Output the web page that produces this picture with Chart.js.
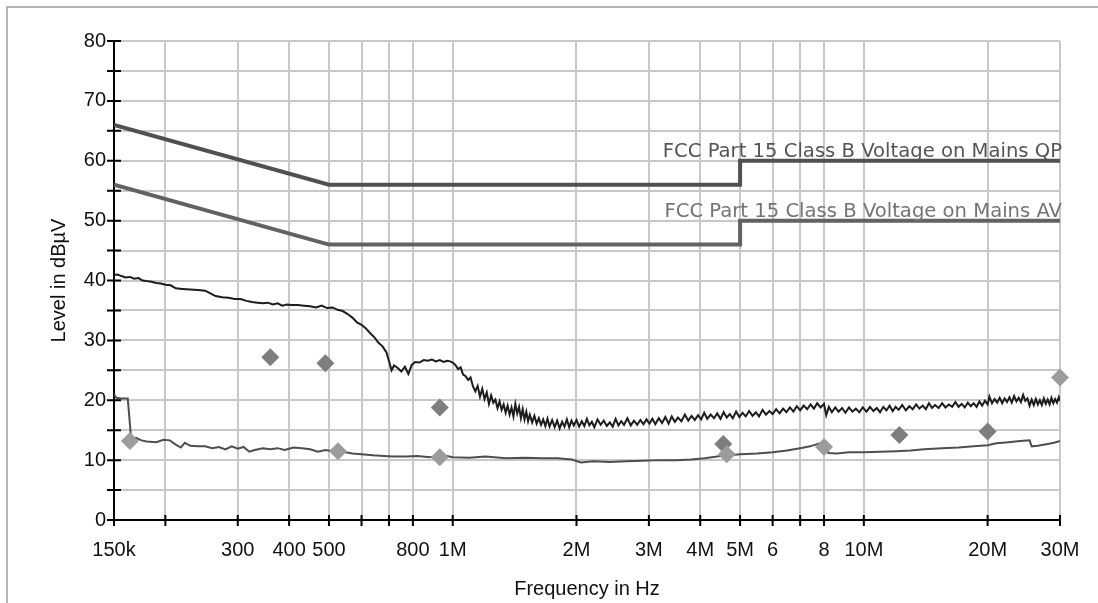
<!DOCTYPE html>
<html>
<head>
<meta charset="utf-8">
<script src="https://cdn.jsdelivr.net/npm/chart.js@4.4.0/dist/chart.umd.min.js"></script>
<style>
  body { margin: 0; background: #fff; }
  canvas { display: block; }
</style>
</head>
<body>
<canvas id="emiChart" width="1098" height="603"></canvas>
<script>
// x axis grid / tick positions (Hz) and their labels
const freqTicks = [150e3, 200e3, 300e3, 400e3, 500e3, 600e3, 700e3, 800e3, 1e6, 2e6, 3e6, 4e6, 5e6, 6e6, 7e6, 8e6, 10e6, 20e6, 30e6];
const freqTickLabels = ['150k', '', '300', '400', '500', '', '', '800', '1M', '2M', '3M', '4M', '5M', '6', '', '8', '10M', '20M', '30M'];

// limit lines [MHz, dBuV]
const qpLimit = [[0.15, 66], [0.5, 56], [5, 56], [5, 60], [30, 60]];
const avLimit = [[0.15, 56], [0.5, 46], [5, 46], [5, 50], [30, 50]];
const qpLimitName = 'FCC Part 15 Class B Voltage on Mains QP';
const avLimitName = 'FCC Part 15 Class B Voltage on Mains AV';

// peak scan [MHz, dBuV]
const peakScan = [
  [0.150,40.9],[0.153,41.0],[0.157,40.7],[0.160,40.5],[0.164,40.6],[0.168,40.3],[0.172,40.4],[0.176,40.0],
  [0.180,39.9],[0.185,39.8],[0.190,39.6],[0.195,39.5],[0.200,39.3],[0.206,39.2],[0.212,38.7],[0.220,38.6],
  [0.230,38.5],[0.240,38.4],[0.250,38.3],[0.258,37.8],[0.265,37.4],[0.275,37.2],[0.285,37.1],[0.295,36.9],
  [0.305,36.9],[0.315,36.6],[0.325,36.4],[0.335,36.3],[0.345,36.2],[0.355,36.3],[0.365,36.0],[0.375,36.2],
  [0.385,35.8],[0.395,36.0],[0.405,35.9],[0.420,35.9],[0.435,35.8],[0.450,35.7],[0.465,35.5],[0.480,35.8],
  [0.495,35.4],[0.510,35.5],[0.525,35.1],[0.540,34.9],[0.555,34.4],[0.570,33.8],[0.585,33.0],[0.600,32.6],
  [0.615,32.0],[0.630,31.2],[0.645,30.5],[0.660,29.6],[0.675,29.0],[0.690,28.0],[0.700,26.5],[0.710,25.0],
  [0.720,25.8],[0.735,25.4],[0.750,24.8],[0.765,25.6],[0.780,24.4],[0.795,25.9],[0.810,26.4],[0.830,26.3],
  [0.850,26.7],[0.870,26.6],[0.890,26.8],[0.910,26.5],[0.930,26.7],[0.950,26.4],[0.970,26.6],[0.985,26.5],
  [1.000,26.3],[1.015,25.9],[1.030,25.2],[1.045,25.5],[1.060,24.3],[1.075,24.0],[1.090,23.4],[1.105,23.8],
  [1.120,22.3],[1.135,21.5],[1.150,22.4],[1.165,20.6],[1.180,21.9],[1.195,20.2],[1.210,21.3],[1.225,19.4],
  [1.240,20.8],[1.255,19.6],[1.270,20.1],[1.285,18.7],[1.300,19.8],[1.315,18.4],[1.330,19.3],[1.345,17.9],
  [1.360,19.1],[1.375,17.6],[1.390,18.8],[1.405,17.3],[1.420,19.4],[1.435,17.8],[1.450,18.9],[1.465,17.0],
  [1.480,18.5],[1.495,16.8],[1.510,18.1],[1.525,16.5],[1.540,17.6],[1.560,16.3],[1.580,17.4],[1.600,16.1],
  [1.620,17.0],[1.640,15.9],[1.660,16.8],[1.680,15.7],[1.700,16.9],[1.720,15.6],[1.745,16.7],[1.770,15.5],
  [1.795,16.6],[1.820,15.3],[1.845,16.4],[1.870,15.6],[1.895,16.8],[1.920,15.5],[1.945,16.6],[1.970,15.8],
  [2.000,16.7],[2.03,15.6],[2.06,16.5],[2.09,15.7],[2.12,16.9],[2.15,15.8],[2.18,16.4],[2.21,15.5],
  [2.25,16.8],[2.29,15.9],[2.33,16.6],[2.37,15.7],[2.41,16.3],[2.45,15.6],[2.49,16.9],[2.53,15.8],
  [2.57,16.5],[2.61,15.9],[2.66,17.0],[2.71,15.8],[2.76,16.6],[2.81,15.9],[2.86,16.7],[2.91,16.0],
  [2.96,16.8],[3.01,16.1],[3.06,16.9],[3.11,16.0],[3.17,17.0],[3.23,16.2],[3.29,17.2],[3.35,16.1],
  [3.41,17.3],[3.47,16.4],[3.53,17.1],[3.60,16.5],[3.67,17.6],[3.74,16.6],[3.81,17.4],[3.88,16.7],
  [3.95,17.5],[4.02,16.8],[4.09,17.9],[4.16,16.9],[4.24,17.6],[4.32,17.0],[4.40,17.8],[4.48,16.9],
  [4.56,18.0],[4.64,17.1],[4.72,17.7],[4.80,17.0],[4.89,18.1],[4.98,17.2],[5.07,17.9],[5.16,17.3],
  [5.26,18.2],[5.36,17.4],[5.46,18.0],[5.56,17.3],[5.67,18.4],[5.78,17.6],[5.89,18.2],[6.00,17.7],
  [6.12,18.5],[6.24,17.8],[6.36,18.6],[6.48,18.0],[6.61,18.8],[6.74,18.1],[6.87,19.0],[7.00,18.3],
  [7.14,19.1],[7.28,18.5],[7.42,19.3],[7.56,18.6],[7.70,19.5],[7.85,18.8],[8.00,19.4],[8.10,17.5],
  [8.22,18.9],[8.36,18.0],[8.52,18.8],[8.68,18.1],[8.85,18.7],[9.02,17.9],[9.20,18.8],[9.38,18.1],
  [9.56,18.6],[9.75,18.0],[9.94,18.8],[10.15,18.1],[10.35,18.9],[10.55,18.2],[10.75,18.7],[10.95,18.0],
  [11.15,18.9],[11.35,18.3],[11.55,19.1],[11.75,18.2],[11.95,18.9],[12.15,18.4],[12.40,19.2],[12.65,18.3],
  [12.90,19.0],[13.15,18.5],[13.40,19.3],[13.65,18.6],[13.90,19.1],[14.15,18.5],[14.40,19.5],[14.65,18.7],
  [14.90,19.2],[15.20,18.7],[15.50,19.5],[15.80,18.8],[16.10,19.3],[16.40,18.9],[16.70,19.7],[17.00,18.9],
  [17.30,19.4],[17.60,18.8],[17.90,19.6],[18.20,19.0],[18.50,19.5],[18.80,18.9],[19.10,19.8],[19.40,19.1],
  [19.70,19.9],[20.00,19.3],[20.20,20.6],[20.50,19.5],[20.80,20.2],[21.10,19.6],[21.40,20.4],[21.70,19.5],
  [22.00,20.3],[22.30,19.7],[22.60,20.5],[22.90,19.6],[23.20,20.7],[23.50,19.8],[23.80,20.4],[24.10,19.7],
  [24.40,20.9],[24.70,19.9],[25.00,20.3],[25.30,19.1],[25.60,20.1],[25.90,19.2],[26.20,20.2],[26.50,19.3],
  [26.80,20.0],[27.10,19.2],[27.40,20.3],[27.70,19.4],[28.00,20.1],[28.30,19.3],[28.60,20.4],[28.90,19.5],
  [29.20,20.2],[29.50,19.6],[29.80,20.5],[30.00,19.9]
];

// average scan [MHz, dBuV]
const avgScan = [
  [0.150,21.0],[0.152,20.4],[0.156,20.3],[0.160,20.3],[0.162,20.3],[0.165,13.8],[0.170,13.7],[0.175,13.3],
  [0.180,13.1],[0.190,13.0],[0.198,13.4],[0.205,13.3],[0.212,12.6],[0.218,12.1],[0.223,12.9],[0.230,12.4],
  [0.240,12.3],[0.250,12.3],[0.260,12.0],[0.270,12.2],[0.280,11.8],[0.290,12.3],[0.300,11.9],[0.310,12.2],
  [0.320,11.4],[0.330,11.7],[0.345,12.0],[0.360,11.8],[0.375,12.0],[0.390,11.7],[0.410,12.1],[0.430,12.0],
  [0.450,11.8],[0.470,11.4],[0.490,11.7],[0.510,11.5],[0.540,11.4],[0.570,11.1],[0.600,11.0],[0.640,10.8],
  [0.680,10.7],[0.720,10.6],[0.770,10.6],[0.820,10.7],[0.880,10.5],[0.950,10.8],[1.000,10.5],[1.100,10.4],
  [1.200,10.6],[1.350,10.3],[1.500,10.4],[1.650,10.3],[1.800,10.3],[1.950,10.1],[2.050,9.6],[2.200,9.8],
  [2.400,9.7],[2.650,9.8],[2.900,9.9],[3.200,10.0],[3.500,10.0],[3.800,10.1],[4.100,10.3],[4.400,10.6],
  [4.700,10.8],[5.000,11.0],[5.500,11.1],[6.000,11.3],[6.500,11.6],[7.000,12.0],[7.400,12.3],[7.800,12.8],
  [8.050,13.1],[8.200,11.2],[8.600,11.1],[9.200,11.3],[10.00,11.3],[11.00,11.4],[12.00,11.5],[13.00,11.6],
  [14.00,11.8],[15.50,12.0],[17.00,12.1],[18.50,12.3],[20.00,12.5],[21.00,12.8],[22.50,13.0],[24.00,13.2],
  [25.30,13.3],[25.60,12.3],[26.50,12.4],[28.00,12.7],[29.00,12.9],[30.00,13.2]
];

// final measurements [MHz, dBuV]
const qpFinal = [[0.36, 27.2], [0.49, 26.2], [0.93, 18.8], [4.55, 12.7], [12.2, 14.2], [20.0, 14.8]];
const avFinal = [[0.164, 13.2], [0.526, 11.5], [0.93, 10.5], [4.64, 11.0], [8.0, 12.2], [30.0, 23.8]];

const toXY = arr => arr.map(p => ({ x: p[0] * 1e6, y: p[1] }));
const tickFont = { family: 'Liberation Sans, Arial, sans-serif', size: 20 };

const decorPlugin = {
  id: 'decor',
  beforeDraw(chart) {
    const c = chart.ctx;
    c.save();
    c.strokeStyle = '#b4b4b4';
    c.lineWidth = 2;
    c.beginPath();
    c.moveTo(7, chart.height);
    c.lineTo(7, 7);
    c.lineTo(chart.width, 7);
    c.stroke();
    c.restore();
  },
  afterDraw(chart) {
    const c = chart.ctx;
    const xs = chart.scales.x, ys = chart.scales.y;
    const area = chart.chartArea;
    c.save();
    c.strokeStyle = '#000';
    c.lineWidth = 2;
    c.beginPath();
    ys.ticks.forEach((t, i) => {
      const py = ys.getPixelForTick(i);
      c.moveTo(area.left - 7, py);
      c.lineTo(area.left + 7, py);
    });
    xs.ticks.forEach((t, i) => {
      const px = xs.getPixelForTick(i);
      c.moveTo(px, area.bottom - 5);
      c.lineTo(px, area.bottom + 6);
    });
    c.stroke();

    c.font = '19.6px "DejaVu Sans", Verdana, sans-serif';
    c.textAlign = 'right';
    c.textBaseline = 'alphabetic';
    c.fillStyle = '#555';
    c.fillText(qpLimitName, area.right + 2, ys.getPixelForValue(60) - 4);
    c.fillStyle = '#747474';
    c.fillText(avLimitName, area.right + 2, ys.getPixelForValue(50) - 4);
    c.restore();
  }
};

new Chart(document.getElementById('emiChart'), {
  type: 'line',
  data: {
    datasets: [
      {
        label: 'AV final',
        data: toXY(avFinal),
        showLine: false,
        clip: false,
        pointStyle: 'rectRot',
        pointRadius: 9,
        pointBorderWidth: 0,
        pointBackgroundColor: '#9c9c9c',
        pointBorderColor: '#9c9c9c'
      },
      {
        label: 'QP final',
        data: toXY(qpFinal),
        showLine: false,
        clip: false,
        pointStyle: 'rectRot',
        pointRadius: 9,
        pointBorderWidth: 0,
        pointBackgroundColor: '#7e7e7e',
        pointBorderColor: '#7e7e7e'
      },
      {
        label: 'Peak',
        data: toXY(peakScan),
        borderColor: '#1c1c1c',
        borderWidth: 2,
        pointRadius: 0,
        tension: 0
      },
      {
        label: 'Average',
        data: toXY(avgScan),
        borderColor: '#4e4e4e',
        borderWidth: 2,
        pointRadius: 0,
        tension: 0
      },
      {
        label: qpLimitName,
        data: toXY(qpLimit),
        borderColor: '#505050',
        borderWidth: 4,
        pointRadius: 0
      },
      {
        label: avLimitName,
        data: toXY(avLimit),
        borderColor: '#626262',
        borderWidth: 4,
        pointRadius: 0
      }
    ]
  },
  options: {
    responsive: false,
    animation: false,
    layout: { padding: { left: 0, right: 38, top: 41, bottom: 0 } },
    plugins: {
      legend: { display: false },
      tooltip: { enabled: false }
    },
    scales: {
      x: {
        type: 'logarithmic',
        min: 150e3,
        max: 30e6,
        afterBuildTicks: scale => { scale.ticks = freqTicks.map(v => ({ value: v })); },
        afterFit: scale => { scale.height = 83; },
        grid: { color: '#c8c8c8', lineWidth: 2, drawTicks: false },
        border: { display: true, color: '#000', width: 2 },
        ticks: {
          autoSkip: false,
          maxRotation: 0,
          padding: 18,
          color: '#111',
          font: tickFont,
          callback: (value, index) => freqTickLabels[index]
        },
        title: {
          display: true,
          text: 'Frequency in Hz',
          color: '#111',
          font: tickFont,
          padding: 2
        }
      },
      y: {
        min: 0,
        max: 80,
        afterFit: scale => { scale.width = 114; },
        grid: { color: '#c8c8c8', lineWidth: 2, drawTicks: false },
        border: { display: true, color: '#000', width: 2 },
        ticks: {
          stepSize: 5,
          padding: 8,
          color: '#111',
          font: tickFont,
          callback: value => (value % 10 === 0 ? value : '')
        },
        title: {
          display: true,
          text: 'Level in dBµV',
          color: '#111',
          font: tickFont,
          padding: { top: 47, bottom: 0 }
        }
      }
    }
  },
  plugins: [decorPlugin]
});
</script>
</body>
</html>
